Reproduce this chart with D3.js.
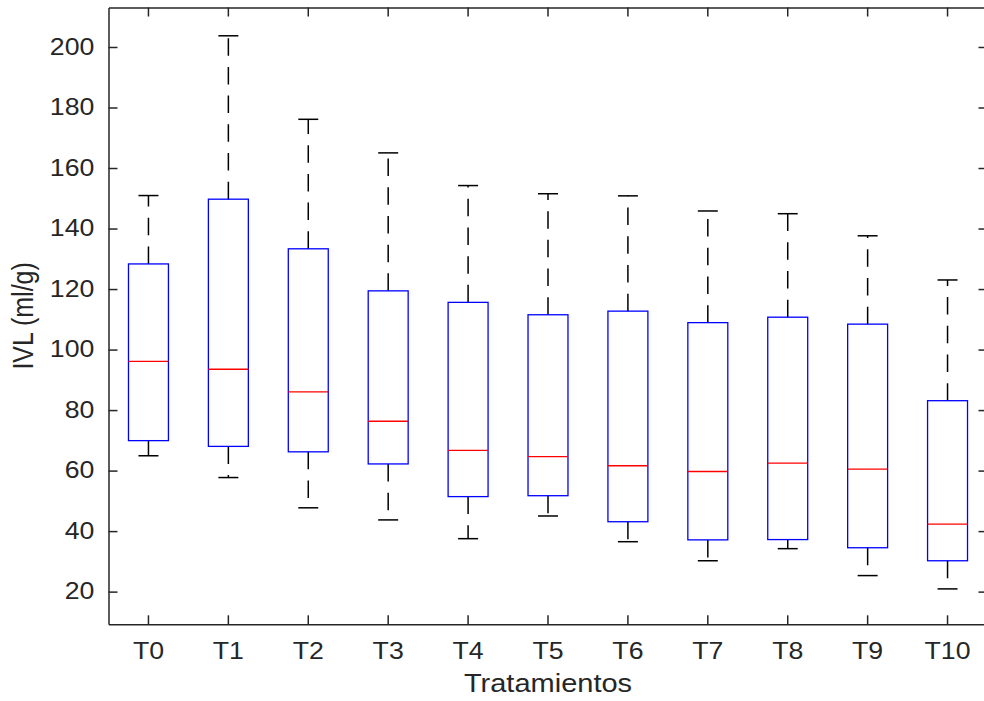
<!DOCTYPE html>
<html>
<head>
<meta charset="utf-8">
<script src="https://cdn.jsdelivr.net/npm/d3@7"></script>
<style>
	body { margin: 0; background: #fff; }
	svg { display: block; font-family: "Liberation Sans", Arial, sans-serif; }
</style>
</head>
<body>
<svg id="chart" width="984" height="701"></svg>
<script>
// treatments and box statistics (ml/g)
const groups = ["T0", "T1", "T2", "T3", "T4", "T5", "T6", "T7", "T8", "T9", "T10"];
const lowerWhisker = [64.9, 57.7, 47.7, 43.7, 37.5, 45.0, 36.5, 30.2, 34.2, 25.3, 20.9];
const q1 = [69.9, 68.0, 66.2, 62.2, 51.4, 51.7, 43.1, 37.1, 37.2, 34.5, 30.2];
const medians = [96.1, 93.5, 86.0, 76.3, 66.7, 64.6, 61.6, 59.7, 62.5, 60.5, 42.3];
const q3 = [128.3, 149.7, 133.3, 119.4, 115.6, 111.5, 112.7, 108.9, 110.7, 108.4, 83.1];
const upperWhisker = [150.9, 203.7, 176.1, 165.0, 154.2, 151.5, 150.8, 145.8, 144.9, 137.6, 123.0];
const yTicks = [20, 40, 60, 80, 100, 120, 140, 160, 180, 200];

const boxes = groups.map((g, i) => ({
	name: g, lo: lowerWhisker[i], q1: q1[i], med: medians[i], q3: q3[i], hi: upperWhisker[i]
}));

const svg = d3.select("#chart");
const plot = { left: 108.5, right: 987.5, top: 7.5, bottom: 624.3 };
const axisColor = "#262626";
const stretch = 1.16; // glyphs in the picture are a bit wider than tall

svg.append("rect").attr("width", 984).attr("height", 701).attr("fill", "#fff");

let x = d3.scaleBand()
	.domain(groups)
	.range([plot.left, plot.right])
	.padding(0);

let y = d3.scaleLinear()
	.domain([9.2, 213.05])
	.range([plot.bottom, plot.top]);

const bw = x.bandwidth();
const cx = d => x(d.name) + bw / 2;

// whiskers (dashed) from box edge to caps
const whiskers = svg.append("g");
whiskers.selectAll(".up")
	.data(boxes)
	.enter()
	.append("line")
		.attr("x1", cx).attr("x2", cx)
		.attr("y1", d => y(d.q3)).attr("y2", d => y(d.hi))
		.attr("stroke", "#000").attr("stroke-width", 1.5)
		.attr("stroke-dasharray", "17.5,11.2");

whiskers.selectAll(".down")
	.data(boxes)
	.enter()
	.append("line")
		.attr("x1", cx).attr("x2", cx)
		.attr("y1", d => y(d.q1)).attr("y2", d => y(d.lo))
		.attr("stroke", "#000").attr("stroke-width", 1.5)
		.attr("stroke-dasharray", "17.5,11.2");

// caps
["hi", "lo"].forEach(k => {
	whiskers.selectAll(".cap-" + k)
		.data(boxes)
		.enter()
		.append("line")
			.attr("x1", d => cx(d) - bw * 0.125)
			.attr("x2", d => cx(d) + bw * 0.125)
			.attr("y1", d => y(d[k])).attr("y2", d => y(d[k]))
			.attr("stroke", "#000").attr("stroke-width", 1.5);
});

// boxes
svg.append("g").selectAll("rect")
	.data(boxes)
	.enter()
	.append("rect")
		.attr("x", d => cx(d) - bw / 4)
		.attr("y", d => y(d.q3))
		.attr("width", bw / 2)
		.attr("height", d => y(d.q1) - y(d.q3))
		.attr("fill", "none")
		.attr("stroke", "#0000ff")
		.attr("stroke-width", 1.3);

// medians
svg.append("g").selectAll("line")
	.data(boxes)
	.enter()
	.append("line")
		.attr("x1", d => cx(d) - bw / 4)
		.attr("x2", d => cx(d) + bw / 4)
		.attr("y1", d => y(d.med)).attr("y2", d => y(d.med))
		.attr("stroke", "#ff0000")
		.attr("stroke-width", 1.3);

// axes, ticks pointing inward on all four sides
function styleAxis(g) {
	g.select(".domain").attr("stroke", axisColor).attr("stroke-width", 1.5);
	g.selectAll(".tick line").attr("stroke", axisColor).attr("stroke-width", 1.5);
	g.selectAll("text").attr("fill", axisColor).attr("font-size", 23)
		.attr("font-family", "Liberation Sans, Arial, sans-serif");
}

svg.append("g")
	.attr("transform", "translate(0," + plot.bottom + ")")
	.call(d3.axisBottom(x).tickSizeInner(-9).tickSizeOuter(0).tickPadding(18.5))
	.call(styleAxis)
	.selectAll("text")
	.attr("transform", "scale(" + stretch + ",1)");

svg.append("g")
	.attr("transform", "translate(0," + plot.top + ")")
	.call(d3.axisTop(x).tickSizeInner(-9).tickSizeOuter(0).tickFormat(""))
	.call(styleAxis);

svg.append("g")
	.attr("transform", "translate(" + plot.left + ",0)")
	.call(d3.axisLeft(y).tickValues(yTicks).tickSizeInner(-9).tickSizeOuter(0).tickPadding(12.2))
	.call(styleAxis)
	.selectAll("text")
	.attr("transform", "scale(" + stretch + ",1)");

svg.append("g")
	.attr("transform", "translate(" + plot.right + ",0)")
	.call(d3.axisRight(y).tickValues(yTicks).tickSizeInner(-9).tickSizeOuter(0).tickFormat(""))
	.call(styleAxis);

// axis labels
svg.append("text")
	.attr("transform", "translate(" + ((plot.left + plot.right) / 2) + ",692) scale(" + stretch + ",1)")
	.attr("text-anchor", "middle")
	.attr("font-size", 25)
	.attr("fill", axisColor)
	.text("Tratamientos");

svg.append("text")
	.attr("transform", "translate(33," + ((plot.top + plot.bottom) / 2) + ") scale(" + stretch + ",1) rotate(-90)")
	.attr("text-anchor", "middle")
	.attr("font-size", 25)
	.attr("fill", axisColor)
	.text("IVL (ml/g)");
</script>
</body>
</html>
